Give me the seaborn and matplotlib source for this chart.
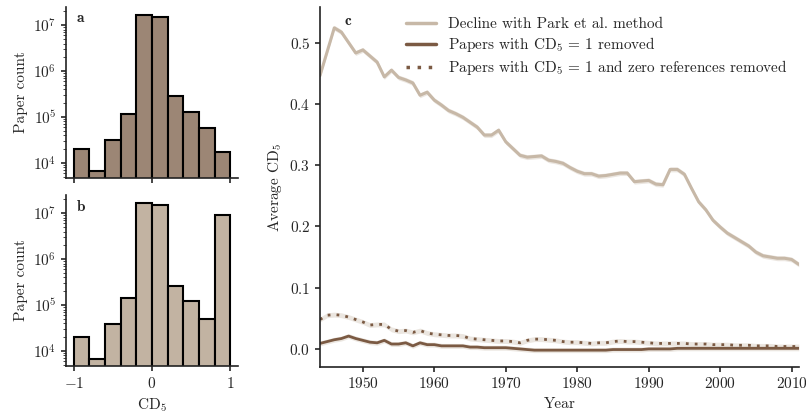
import numpy as np
import pandas as pd
import matplotlib
matplotlib.use("Agg")
import matplotlib.pyplot as plt
import seaborn as sns

# histogram data (bins of width 0.2 from -1 to 1)
bin_edges = [-1.0, -0.8, -0.6, -0.4, -0.2, 0.0, 0.2, 0.4, 0.6, 0.8, 1.0]
counts_a = [2.0e4, 6.8e3, 3.2e4, 1.16e5, 1.65e7, 1.5e7, 2.86e5, 1.29e5, 5.8e4, 1.76e4]
counts_b = [2.0e4, 6.8e3, 3.8e4, 1.44e5, 1.66e7, 1.5e7, 2.57e5, 1.22e5, 4.9e4, 9.2e6]

# average CD5 per year
years = list(range(1944, 2012))
park = [0.446, 0.485, 0.524, 0.517, 0.500, 0.483, 0.488, 0.478, 0.468, 0.444,
        0.455, 0.443, 0.439, 0.434, 0.414, 0.419, 0.406, 0.398, 0.389, 0.384,
        0.378, 0.370, 0.362, 0.349, 0.349, 0.357, 0.338, 0.327, 0.316, 0.313,
        0.314, 0.315, 0.308, 0.306, 0.303, 0.296, 0.290, 0.286, 0.286, 0.282,
        0.283, 0.285, 0.287, 0.287, 0.273, 0.274, 0.275, 0.269, 0.268, 0.293,
        0.293, 0.285, 0.262, 0.240, 0.227, 0.210, 0.199, 0.189, 0.182, 0.175,
        0.168, 0.158, 0.152, 0.150, 0.148, 0.148, 0.146, 0.138]
cd1_removed = [0.009, 0.012, 0.015, 0.017, 0.021, 0.017, 0.014, 0.011, 0.010, 0.014,
               0.008, 0.008, 0.010, 0.005, 0.010, 0.007, 0.007, 0.005, 0.005, 0.005,
               0.005, 0.003, 0.003, 0.002, 0.002, 0.002, 0.002, 0.001, 0.000, -0.001,
               -0.002, -0.002, -0.002, -0.002, -0.002, -0.002, -0.002, -0.002, -0.002, -0.002,
               -0.002, -0.001, -0.001, -0.001, -0.001, -0.001, 0.000, 0.000, 0.000, 0.000,
               0.001, 0.001, 0.001, 0.001, 0.001, 0.001, 0.001, 0.001, 0.001, 0.001,
               0.001, 0.001, 0.001, 0.001, 0.001, 0.001, 0.001, 0.001]
cd1_zero_removed = [0.048, 0.055, 0.056, 0.055, 0.052, 0.048, 0.044, 0.039, 0.040, 0.040,
                    0.032, 0.029, 0.030, 0.027, 0.030, 0.026, 0.024, 0.023, 0.022, 0.022,
                    0.021, 0.017, 0.016, 0.015, 0.014, 0.013, 0.013, 0.012, 0.010, 0.014,
                    0.016, 0.016, 0.015, 0.014, 0.012, 0.011, 0.011, 0.010, 0.009, 0.010,
                    0.010, 0.012, 0.013, 0.012, 0.012, 0.011, 0.010, 0.009, 0.009, 0.009,
                    0.009, 0.009, 0.008, 0.008, 0.008, 0.007, 0.007, 0.007, 0.006, 0.006,
                    0.006, 0.005, 0.005, 0.005, 0.004, 0.004, 0.004, 0.004]
band = 0.004  # rough half-width of the shaded interval

series_labels = ["Decline with Park et al. method",
                 "Papers with CD$_5$ = 1 removed",
                 "Papers with CD$_5$ = 1 and zero references removed"]

light = "#c7b8a7"
dark = "#7b5a43"
bar_a = "#9c8675"
bar_b = "#c2b3a2"

sns.set_style("ticks")
plt.rcParams["font.family"] = ["cmr10", "DejaVu Serif"]
plt.rcParams["mathtext.fontset"] = "cm"
plt.rcParams["axes.formatter.use_mathtext"] = True
plt.rcParams["axes.unicode_minus"] = True
plt.rcParams["font.size"] = 11
plt.rcParams["axes.linewidth"] = 1.2
plt.rcParams["axes.edgecolor"] = "#222222"
plt.rcParams["xtick.major.width"] = 1.2
plt.rcParams["ytick.major.width"] = 1.2

fig = plt.figure(figsize=(8.06, 4.18), dpi=100)
ax_a = fig.add_axes([0.0819, 0.5742, 0.2134, 0.409])
ax_b = fig.add_axes([0.0819, 0.1244, 0.2134, 0.409])
ax_c = fig.add_axes([0.397, 0.1227, 0.594, 0.8605])

centers = [(bin_edges[i] + bin_edges[i + 1]) / 2 for i in range(len(bin_edges) - 1)]

# panels a and b
for ax, counts, col, letter in [(ax_a, counts_a, bar_a, "a"), (ax_b, counts_b, bar_b, "b")]:
    sns.histplot(x=centers, weights=counts, bins=bin_edges, color=col, alpha=1,
                 edgecolor="black", linewidth=1.5, ax=ax)
    ax.set_yscale("log")
    ax.set_ylim(4700, 2.5e7)
    ax.set_xlim(-1.1, 1.1)
    ax.set_xticks([-1, 0, 1])
    ax.set_yticks([1e4, 1e5, 1e6, 1e7])
    ax.set_ylabel("Paper count")
    ax.text(0.06, 0.935, r"$\mathbf{" + letter + "}$", transform=ax.transAxes,
            ha="left", va="center", fontsize=11)
    sns.despine(ax=ax)

ax_a.set_xticklabels([])
ax_a.set_xlabel("")
ax_b.set_xlabel("CD$_5$")

# panel c
df = pd.DataFrame({"Year": years, "park": park, "cd1": cd1_removed, "cd1zero": cd1_zero_removed})

ax_c.fill_between(df["Year"], df["park"] - band, df["park"] + band, color=light, alpha=0.35, lw=0)
ax_c.fill_between(df["Year"], df["cd1"] - band, df["cd1"] + band, color=light, alpha=0.35, lw=0)
ax_c.fill_between(df["Year"], df["cd1zero"] - band, df["cd1zero"] + band, color=light, alpha=0.35, lw=0)

sns.lineplot(data=df, x="Year", y="park", color=light, lw=2.2, label=series_labels[0], ax=ax_c)
sns.lineplot(data=df, x="Year", y="cd1", color=dark, lw=2.0, label=series_labels[1], ax=ax_c)
sns.lineplot(data=df, x="Year", y="cd1zero", color=dark, lw=2.0, ls=(0, (1, 2.2)),
             label=series_labels[2], ax=ax_c)

ax_c.set_xlim(1944, 2011)
ax_c.set_ylim(-0.029, 0.558)
ax_c.set_xticks([1950, 1960, 1970, 1980, 1990, 2000, 2010])
ax_c.set_yticks([0.0, 0.1, 0.2, 0.3, 0.4, 0.5])
ax_c.set_xlabel("Year")
ax_c.set_ylabel("Average CD$_5$")
ax_c.text(0.05, 0.962, r"$\mathbf{c}$", transform=ax_c.transAxes, ha="left", va="center", fontsize=11)
leg = ax_c.legend(loc="upper right", frameon=False, handlelength=2.0, handletextpad=0.8,
                  borderaxespad=0.3, labelspacing=0.25, bbox_to_anchor=(1.0, 1.0))
for line in leg.get_lines():
    line.set_linewidth(2.5)
sns.despine(ax=ax_c)

fig.savefig("out.png", dpi=100)
